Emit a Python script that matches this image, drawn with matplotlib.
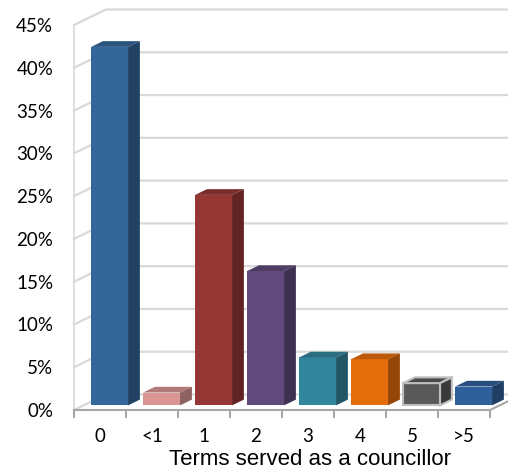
import matplotlib.pyplot as plt
from matplotlib.patches import Polygon
import numpy as np

# data
categories = ['0', '<1', '1', '2', '3', '4', '5', '>5']
values = [41.9, 1.5, 24.6, 15.7, 5.6, 5.4, 2.6, 2.2]
front_colors = ['#336699', '#D99594', '#953735', '#604A7B', '#31859C', '#E46C0A', '#595959', '#2F5F9A']
y_ticks = [0, 5, 10, 15, 20, 25, 30, 35, 40, 45]

fig = plt.figure(figsize=(5.08, 4.76), dpi=100)
ax = fig.add_axes([74 / 508, 1 - 410 / 476, 416 / 508, 385 / 476])
ax.set_xlim(-0.5, 7.5)
ax.set_ylim(0, 45)

# depth of the 3d box (data units)
wdx, wdy = 0.615, 1.81
grid_c = '#d9d9d9'

# walls / gridlines
for y in y_ticks:
    ax.plot([-0.5, -0.5 + wdx, 9], [y, y + wdy, y + wdy], color=grid_c, lw=1.6,
            clip_on=False, zorder=1)
ax.plot([-0.5, -0.5], [0, 45], color=grid_c, lw=1.2, clip_on=False, zorder=1)
# floor right edge
ax.plot([7.5, 7.5 + wdx], [0, wdy], color='#a6a6a6', lw=1.5, clip_on=False, zorder=2)


def shade(c, k):
    r, g, b = [int(c[i:i + 2], 16) / 255 for i in (1, 3, 5)]
    return (r * k, g * k, b * k)


# bars
x = np.arange(len(categories))
f0 = 0.3
fd = 0.37
w = 0.71
dx0, dy0 = f0 * wdx, f0 * wdy
ddx, ddy = fd * wdx, fd * wdy
for i, v in enumerate(values):
    xl = x[i] + dx0 - w / 2
    xr = xl + w
    top = dy0 + v
    edge = '#bfbfbf' if categories[i] == '5' else 'none'
    ax.bar(x[i] + dx0, v, width=w, bottom=dy0, color=front_colors[i],
           edgecolor=edge, linewidth=1.5, zorder=3, clip_on=False)
    ax.add_patch(Polygon([(xl, top), (xr, top), (xr + ddx, top + ddy), (xl + ddx, top + ddy)],
                         closed=True, facecolor=shade(front_colors[i], 0.82),
                         edgecolor=edge, linewidth=1.5, zorder=3, clip_on=False))
    ax.add_patch(Polygon([(xr, dy0), (xr + ddx, dy0 + ddy), (xr + ddx, top + ddy), (xr, top)],
                         closed=True, facecolor=shade(front_colors[i], 0.65),
                         edgecolor=edge, linewidth=1.5, zorder=3, clip_on=False))

# axes styling
for s in ['top', 'right', 'left']:
    ax.spines[s].set_visible(False)
ax.spines['bottom'].set_color('#a6a6a6')
ax.spines['bottom'].set_linewidth(1.5)
ax.spines['bottom'].set_zorder(4)

ax.set_yticks(y_ticks)
ax.set_yticklabels([f'{t}%' for t in y_ticks])
ax.tick_params(axis='y', length=0, pad=15, labelsize=13.5)
ax.set_xticks(x)
ax.set_xticklabels(categories)
ax.tick_params(axis='x', which='major', length=0, pad=13, labelsize=13.5)
ax.set_xticks(np.arange(-0.5, 8, 1), minor=True)
ax.tick_params(axis='x', which='minor', length=6, width=1.5, color='#a6a6a6')
for lab in ax.get_xticklabels() + ax.get_yticklabels():
    lab.set_fontfamily('Lato')

fig.text(310 / 508, (476 - 465) / 476, 'Terms served as a councillor', ha='center',
         va='baseline', fontsize=16, family='Liberation Sans')

fig.savefig('out.png', dpi=100)
